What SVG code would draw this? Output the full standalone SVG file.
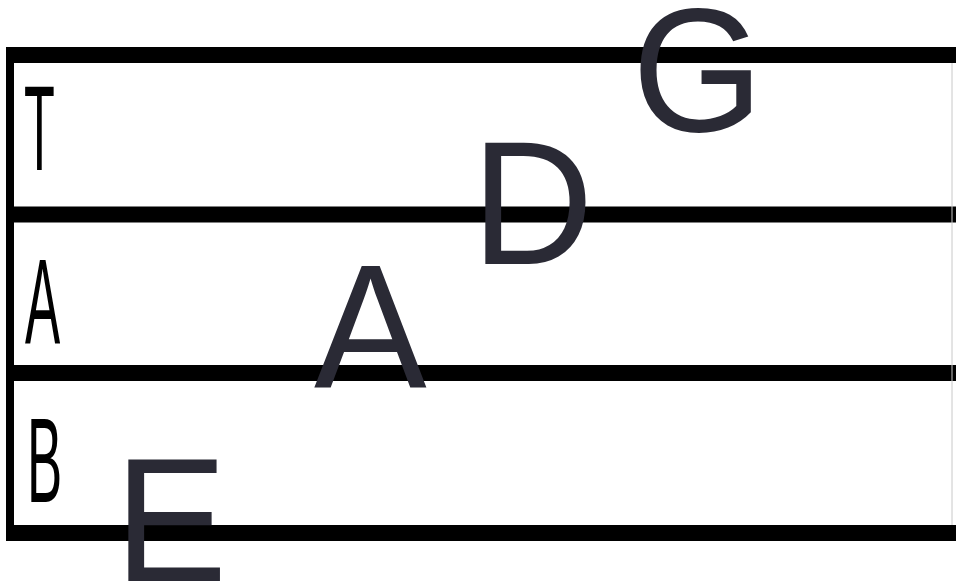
<svg xmlns="http://www.w3.org/2000/svg" width="956" height="584" viewBox="0 0 956 584">
<style>
.staff{stroke:#000;stroke-width:16;fill:none}
.bar{fill:#000}
.lab{font-family:"Liberation Sans",Arial,sans-serif;font-size:120px;fill:#000}
.big{font-family:"Liberation Sans",Arial,sans-serif;font-size:176px;fill:#2a2a35}
</style>
<rect width="956" height="584" fill="#fff"/>
<g id="staff">
<line class="staff" x1="6" y1="55" x2="956" y2="55"/>
<line class="staff" x1="6" y1="214.5" x2="956" y2="214.5"/>
<line class="staff" x1="6" y1="373" x2="956" y2="373"/>
<line class="staff" x1="6" y1="533" x2="956" y2="533"/>
<rect class="bar" x="6" y="47" width="8" height="494"/>
<line x1="952" y1="63" x2="952" y2="525" stroke="#c8c8c8" stroke-width="1"/>
</g>
<g id="labels">
<text class="lab" transform="translate(24,170) scale(0.42,1)">T</text>
<text class="lab" transform="translate(25,343) scale(0.44,1)">A</text>
<text class="lab" transform="translate(27,502) scale(0.44,1)">B</text>
</g>
<g id="notes">
<text class="big" transform="translate(632,131) scale(0.96,1)">G</text>
<text class="big" transform="translate(471.6,264) scale(0.96,1)">D</text>
<text class="big" transform="translate(314,388) scale(0.96,1)">A</text>
<text class="big" transform="translate(114.6,581) scale(0.96,1)">E</text>
</g>
</svg>
